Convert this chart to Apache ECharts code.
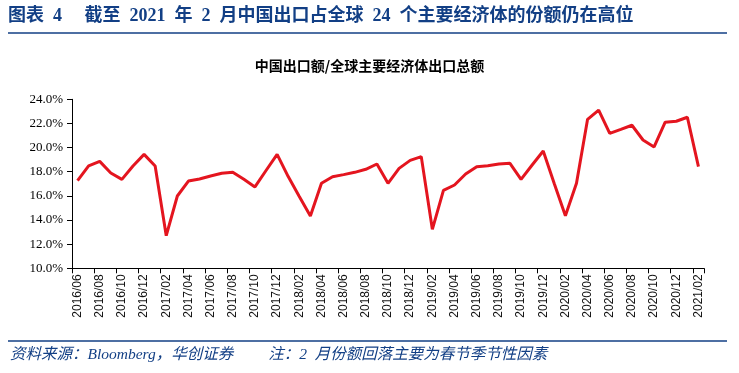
<!DOCTYPE html>
<html>
<head>
<meta charset="utf-8">
<script src="https://cdn.jsdelivr.net/npm/echarts@6/dist/echarts.min.js"></script>
<style>
html,body{margin:0;padding:0;background:#fff;}
#chart{width:739px;height:373px;}
</style>
</head>
<body>
<div id="chart"></div>
<script>
var categories = [
  '2016/06','2016/07','2016/08','2016/09','2016/10','2016/11','2016/12',
  '2017/01','2017/02','2017/03','2017/04','2017/05','2017/06','2017/07','2017/08','2017/09','2017/10','2017/11','2017/12',
  '2018/01','2018/02','2018/03','2018/04','2018/05','2018/06','2018/07','2018/08','2018/09','2018/10','2018/11','2018/12',
  '2019/01','2019/02','2019/03','2019/04','2019/05','2019/06','2019/07','2019/08','2019/09','2019/10','2019/11','2019/12',
  '2020/01','2020/02','2020/03','2020/04','2020/05','2020/06','2020/07','2020/08','2020/09','2020/10','2020/11','2020/12',
  '2021/01','2021/02'
];
var shareValues = [
  17.26, 18.48, 18.86, 17.90, 17.37, 18.48, 19.44,
  18.48, 12.70, 15.99, 17.23, 17.40, 17.65, 17.87, 17.95, 17.37, 16.74, 18.10, 19.44,
  17.60, 15.95, 14.33, 17.04, 17.59, 17.76, 17.95, 18.20, 18.64, 17.04, 18.28, 18.94,
  19.25, 13.23, 16.46, 16.90, 17.81, 18.42, 18.50, 18.64, 18.70, 17.37, 18.56, 19.72,
  17.00, 14.36, 17.04, 22.34, 23.11, 21.18, 21.51, 21.85, 20.63, 20.05, 22.10, 22.18,
  22.51, 18.42
];
var yTicks = [10, 12, 14, 16, 18, 20, 22, 24];

var headerTitle = '图表  4　 截至  2021  年  2  月中国出口占全球  24  个主要经济体的份额仍在高位';
var chartTitle = '中国出口额/全球主要经济体出口总额';
var footerText = '资料来源：Bloomberg，华创证券　　 注：2  月份额回落主要为春节季节性因素';

var chart = echarts.init(document.getElementById('chart'), null, {renderer: 'canvas'});
var blue = '#123f85';
chart.setOption({
  animation: false,
  backgroundColor: '#ffffff',
  graphic: [
    {type: 'text', left: 8, top: 7, style: {text: headerTitle, fill: blue,
      font: 'bold 18px "Liberation Serif", "Noto Sans CJK SC", serif'}},
    {type: 'line', shape: {x1: 8, y1: 33, x2: 727, y2: 33}, style: {stroke: blue, lineWidth: 1.5}},
    {type: 'text', left: 'center', top: 59, style: {text: chartTitle, fill: '#000',
      font: 'bold 14px "Noto Sans CJK SC", sans-serif'}},
    {type: 'line', shape: {x1: 8, y1: 341, x2: 727, y2: 341}, style: {stroke: blue, lineWidth: 1.5}},
    {type: 'text', left: 10, top: 347, style: {text: footerText, fill: blue,
      font: 'italic 15.5px "Liberation Serif", "Noto Sans CJK SC", serif'}}
  ],
  grid: {left: 72, right: 35, top: 99.3, bottom: 104.7, containLabel: false},
  xAxis: {
    type: 'category',
    data: categories,
    boundaryGap: true,
    axisLine: {lineStyle: {color: '#000', width: 1}},
    axisTick: {show: true, interval: 1, length: 5, lineStyle: {color: '#000'}},
    axisLabel: {interval: 1, rotate: 90, color: '#111', fontSize: 12,
      fontFamily: '"Liberation Sans", Arial, sans-serif', margin: 6}
  },
  yAxis: {
    type: 'value',
    min: yTicks[0],
    max: yTicks[yTicks.length - 1],
    interval: 2,
    splitLine: {show: false},
    axisLine: {show: true, lineStyle: {color: '#000', width: 1}},
    axisTick: {show: true, length: 5, lineStyle: {color: '#000'}},
    axisLabel: {color: '#000', fontSize: 13, fontFamily: '"Liberation Serif", "Times New Roman", serif',
      margin: 9, formatter: function (v) { return v.toFixed(1) + '%'; }}
  },
  series: [{
    type: 'line',
    data: shareValues,
    symbol: 'none',
    lineStyle: {color: '#e4151f', width: 3},
    itemStyle: {color: '#e4151f'}
  }]
});
</script>
</body>
</html>
